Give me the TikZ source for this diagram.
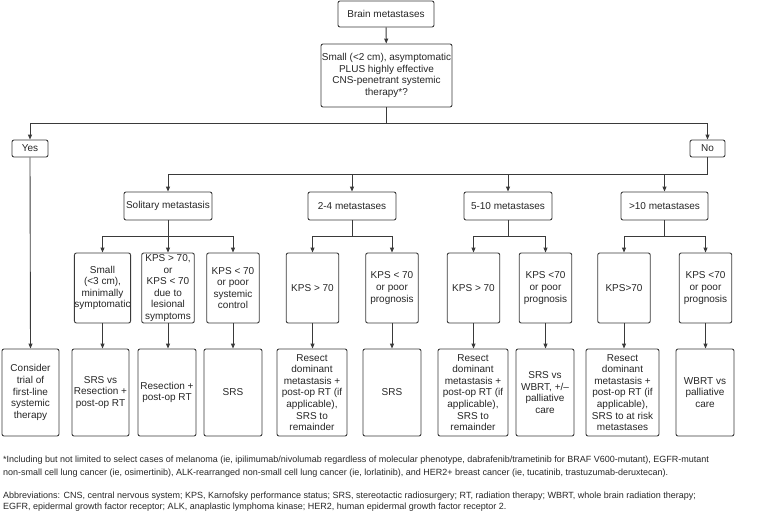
\documentclass[tikz,border=0pt]{standalone}
\usepackage{fontspec}
\setmainfont{Liberation Sans}
\usetikzlibrary{arrows.meta}
\definecolor{ln}{HTML}{3A3A3A}
\definecolor{tx}{HTML}{262626}
\tikzset{
  box/.style={draw=ln, line width=0.9pt, rounded corners=2pt, align=center, inner sep=0pt,
    text=tx, font=\fontsize{10}{11.6}\selectfont},
  conn/.style={draw=ln, line width=0.9pt},
  arr/.style={conn, -{Triangle[length=5pt,width=4pt]}},
  foot/.style={anchor=base west, inner sep=0pt, text=tx, font=\fontsize{9}{10}\selectfont}
}
\begin{document}
\begin{tikzpicture}[x=1pt,y=-1pt]
\useasboundingbox (0,0) rectangle (759,511);
% top
\node[box, minimum width=96, minimum height=26] (brain) at (386,14) {Brain metastases};
\node[box, minimum width=131, minimum height=63] (q) at (386.5,75.5) {Small (<2 cm), asymptomatic\\PLUS highly effective\\CNS-penetrant systemic\\therapy*?};
\node[box, minimum width=36, minimum height=17] (yes) at (30,148.5) {Yes};
\node[box, minimum width=35, minimum height=17] (no) at (707.5,148.5) {No};
% categories
\node[box, minimum width=88, minimum height=28] (sol) at (168,206) {Solitary metastasis};
\node[box, minimum width=88, minimum height=28] (c24) at (352,206) {2-4 metastases};
\node[box, minimum width=88, minimum height=28] (c510) at (508,206) {5-10 metastases};
\node[box, minimum width=87, minimum height=28] (c10) at (664.5,206) {>10 metastases};
% options
\tikzset{opt/.style={box, minimum width=52.5, minimum height=70}}
\node[opt] (o1) at (102.5,288) {Small\\(<3 cm),\\minimally\\symptomatic};
\node[opt] (o2) at (168,288) {KPS > 70,\\or\\KPS < 70\\due to\\lesional\\symptoms};
\node[opt] (o3) at (233,288) {KPS < 70\\or poor\\systemic\\control};
\node[opt] (o4) at (312.5,288) {KPS > 70};
\node[opt] (o5) at (392,288) {KPS < 70\\or poor\\prognosis};
\node[opt] (o6) at (473.5,288) {KPS > 70};
\node[opt] (o7) at (545.5,288) {KPS <70\\or poor\\prognosis};
\node[opt] (o8) at (624,288) {KPS>70};
\node[opt] (o9) at (705.5,288) {KPS <70\\or poor\\prognosis};
% bottom
\tikzset{bot/.style={box, minimum height=87}}
\node[bot, minimum width=57] (b0) at (30.5,392.5) {Consider\\trial of\\first-line\\systemic\\therapy};
\node[bot, minimum width=57] (b1) at (100.5,392.5) {SRS vs\\Resection +\\post-op RT};
\node[bot, minimum width=58] (b2) at (167,392.5) {Resection +\\post-op RT};
\node[bot, minimum width=58] (b3) at (233,392.5) {SRS};
\node[bot, minimum width=70] (b4) at (312,392.5) {Resect\\dominant\\metastasis +\\post-op RT (if\\applicable),\\SRS to\\remainder};
\node[bot, minimum width=58] (b5) at (392,392.5) {SRS};
\node[bot, minimum width=70] (b6) at (473,392.5) {Resect\\dominant\\metastasis +\\post-op RT (if\\applicable),\\SRS to\\remainder};
\node[bot, minimum width=58] (b7) at (545,392.5) {SRS vs\\WBRT, +/--\\palliative\\care};
\node[bot, minimum width=73] (b8) at (622.5,392.5) {Resect\\dominant\\metastasis +\\post-op RT (if\\applicable),\\SRS to at risk\\metastases};
\node[bot, minimum width=58] (b9) at (705,392.5) {WBRT vs\\palliative\\care};
% coordinates for branching
\coordinate (jq) at (386.5,123);
\coordinate (jn) at (707.5,174);
% connectors
\draw[arr] (brain) -- (q);
\draw[conn] (q.south) -- (jq);
\draw[arr] (jq) -| (yes.north);
\draw[arr] (jq) -| (no.north);
\draw[arr] (yes.south) -- (b0.north);
\draw[conn] (no.south) -- (jn);
\foreach \c in {sol,c24,c510,c10} \draw[arr] (jn) -| (\c.north);
% solitary
\coordinate (js) at (168,236);
\draw[conn] (sol.south) -- (js);
\foreach \o in {o1,o2,o3} \draw[arr] (js) -| (\o.north);
\coordinate (j24) at (352,236);
\draw[conn] (c24.south) -- (j24);
\foreach \o in {o4,o5} \draw[arr] (j24) -| (\o.north);
\coordinate (j510) at (508,236);
\draw[conn] (c510.south) -- (j510);
\foreach \o in {o6,o7} \draw[arr] (j510) -| (\o.north);
\coordinate (j10) at (664.5,236);
\draw[conn] (c10.south) -- (j10);
\foreach \o in {o8,o9} \draw[arr] (j10) -| (\o.north);
% option to bottom
\foreach \o/\b in {o1/b1,o2/b2,o3/b3,o4/b4,o5/b5,o6/b6,o7/b7,o8/b8,o9/b9}
  \draw[arr] (\o.south) -- (\o.south |- \b.north);
% footnotes
\node[foot] (f1) at (3,462.5) {*Including but not limited to select cases of melanoma (ie, ipilimumab/nivolumab regardless of molecular phenotype, dabrafenib/trametinib for BRAF V600-mutant), EGFR-mutant};
\node[foot] (f2) at (3,475) {non-small cell lung cancer (ie, osimertinib), ALK-rearranged non-small cell lung cancer (ie, lorlatinib), and HER2+ breast cancer (ie, tucatinib, trastuzumab-deruxtecan).};
\node[foot] (f3) at (3,498.5) {Abbreviations: CNS, central nervous system; KPS, Karnofsky performance status; SRS, stereotactic radiosurgery; RT, radiation therapy; WBRT, whole brain radiation therapy;};
\node[foot] (f4) at (3,509.5) {EGFR, epidermal growth factor receptor; ALK, anaplastic lymphoma kinase; HER2, human epidermal growth factor receptor 2.};
\end{tikzpicture}
\end{document}
